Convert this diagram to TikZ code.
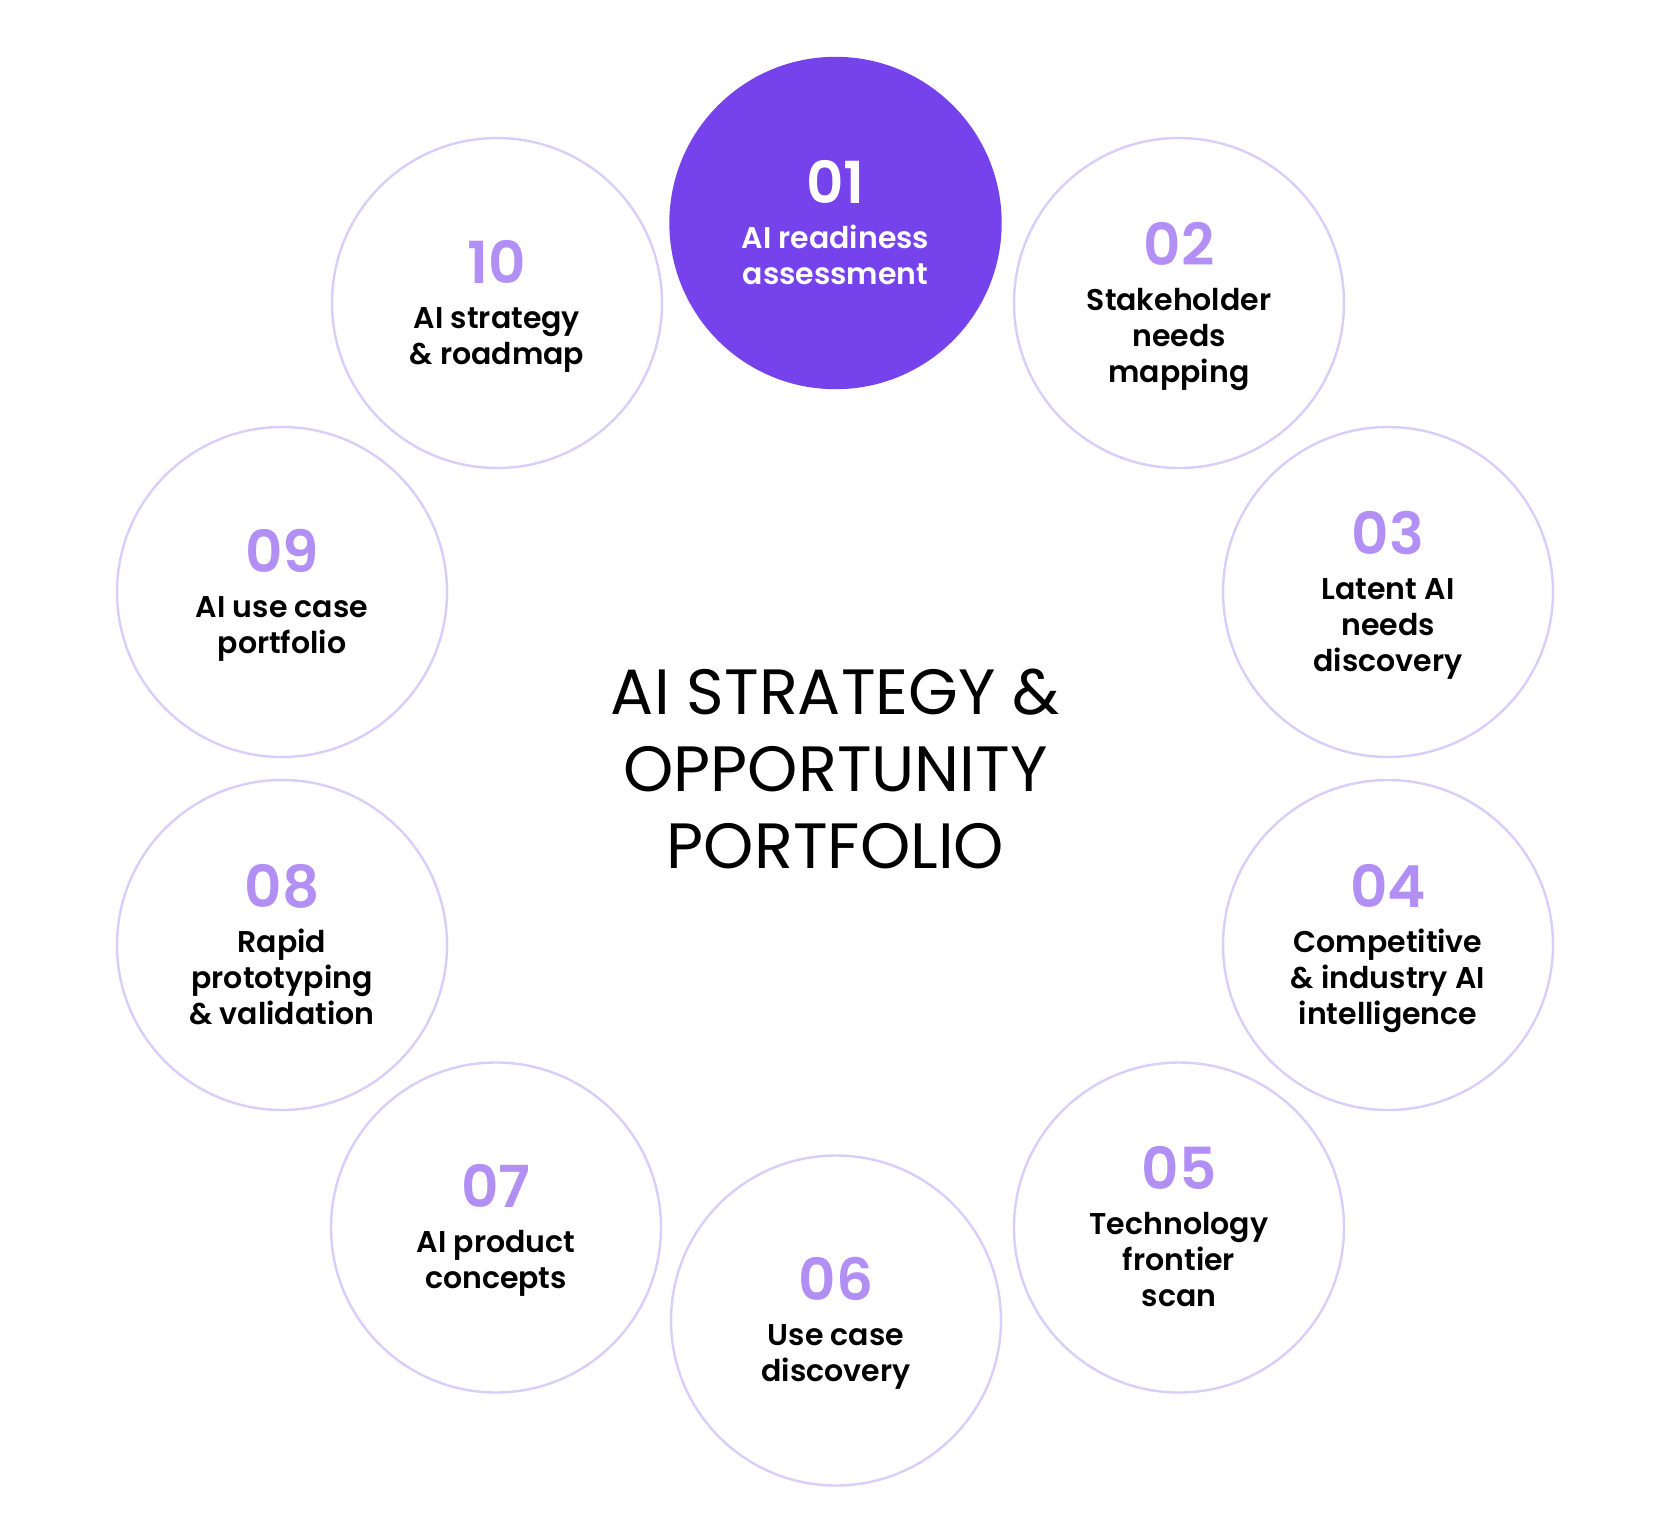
\documentclass[tikz,border=0pt]{standalone}
\usepackage{fontspec}
\setmainfont{Poppins}[BoldFont={* SemiBold}]
\usetikzlibrary{calc,positioning}

\definecolor{violetfill}{HTML}{7642EC}
\definecolor{numlav}{HTML}{B28FF5}
\definecolor{ringlav}{HTML}{D9CEFA}

\begin{document}
\begin{tikzpicture}[x=0.5pt,y=-0.5pt,
  ring/.style={circle,draw=ringlav,line width=1.2pt,fill=white,minimum size=165pt,inner sep=0pt},
  num/.style={anchor=base,text=numlav,font=\fontsize{29}{34}\selectfont\bfseries},
  lab/.style={anchor=base,align=center,font=\fontsize{15}{18}\selectfont\bfseries}]
\useasboundingbox (0,0) rectangle (1660,1536);

% ring of steps
\node (c01) [ring,draw=violetfill,fill=violetfill] at (835.5,223) {};
\node (c02) [ring] at (1179,303) {};
\node (c03) [ring] at (1388,592) {};
\node (c04) [ring] at (1388,945) {};
\node (c05) [ring] at (1179,1227.5) {};
\node (c06) [ring] at (836,1320.5) {};
\node (c07) [ring] at (496,1227.5) {};
\node (c08) [ring] at (282,945) {};
\node (c09) [ring] at (282,592) {};
\node (c10) [ring] at (497,303) {};

% numbers
\node (n01) [num,text=white] at ($(c01)+(0,-20)$) {01};
\node (n02) [num] at ($(c02)+(0,-38)$) {02};
\node (n03) [num] at ($(c03)+(0,-38)$) {03};
\node (n04) [num] at ($(c04)+(0,-38)$) {04};
\node (n05) [num] at ($(c05)+(0,-38)$) {05};
\node (n06) [num] at ($(c06)+(0,-20)$) {06};
\node (n07) [num] at ($(c07)+(0,-20)$) {07};
\node (n08) [num] at ($(c08)+(0,-38)$) {08};
\node (n09) [num] at ($(c09)+(0,-20)$) {09};
\node (n10) [num] at ($(c10)+(0,-20)$) {10};

% labels (base = last line)
\node (t01) [lab,text=white] at ($(c01)+(0,61)$) {AI readiness\\assessment};
\node (t02) [lab] at ($(c02)+(0,79)$) {Stakeholder\\needs\\mapping};
\node (t03) [lab] at ($(c03)+(0,79)$) {Latent AI\\needs\\discovery};
\node (t04) [lab] at ($(c04)+(0,79)$) {Competitive\\\& industry AI\\intelligence};
\node (t05) [lab] at ($(c05)+(0,79)$) {Technology\\frontier\\scan};
\node (t06) [lab] at ($(c06)+(0,61)$) {Use case\\discovery};
\node (t07) [lab] at ($(c07)+(0,61)$) {AI product\\concepts};
\node (t08) [lab] at ($(c08)+(0,79)$) {Rapid\\prototyping\\\& validation};
\node (t09) [lab] at ($(c09)+(0,61)$) {AI use case\\portfolio};
\node (t10) [lab] at ($(c10)+(0,61)$) {AI strategy\\\& roadmap};

% title
\node (title) [anchor=base,align=center,font=\fontsize{32}{38.5}\selectfont] at (835.5,868) {AI STRATEGY \&\\OPPORTUNITY\\PORTFOLIO};
\end{tikzpicture}
\end{document}
